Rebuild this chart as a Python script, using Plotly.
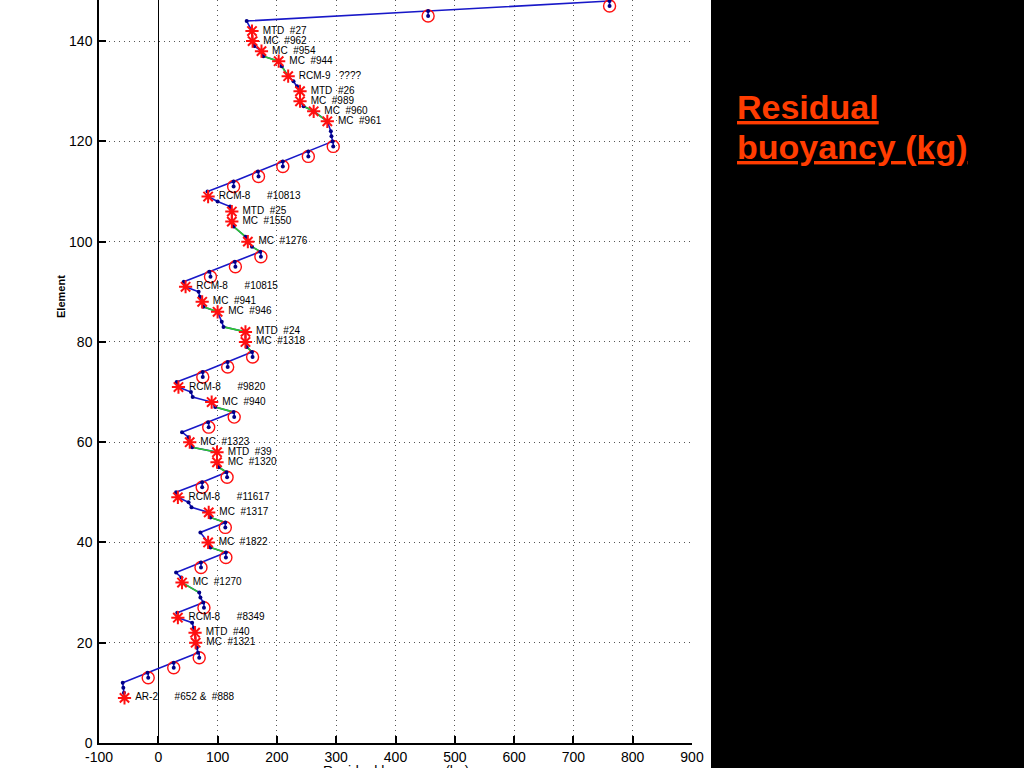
import plotly.graph_objects as go

# ---- data ----
elements = [9, 10, 11, 12, 14, 16, 18, 19, 20, 22, 23, 24, 25, 26, 28, 29, 30, 32, 33, 34,
            36, 38, 39, 40, 42, 44, 45, 46, 47, 48, 49, 50, 52, 54, 55, 56, 58, 59, 60, 61,
            62, 64, 66, 67, 68, 69, 70, 71, 72, 74, 76, 78, 79, 80, 82, 83, 84, 86, 87, 88,
            89, 90, 91, 92, 94, 96, 98, 99, 100, 101, 103, 104, 106, 107, 108, 109, 110, 112,
            114, 116, 118, 120, 121, 122, 124, 126, 127, 128, 130, 131, 132, 133, 135, 136,
            137, 138, 139, 140, 142, 144, 146, 148]
buoyancy = [-57, -58, -59, -60, -18, 26, 67, 65, 63, 62, 60, 57, 33, 32, 76, 71, 69, 40, 39, 30,
            72, 114, 88, 84, 71, 113, 88, 85, 56, 51, 33, 30, 74, 115, 102, 99, 99, 57, 53, 51,
            40, 84, 127, 96, 90, 58, 55, 34, 31, 75, 117, 158, 149, 147, 147, 110, 107, 100, 76, 74,
            70, 68, 46, 43, 86, 129, 172, 158, 151, 147, 127, 124, 124, 121, 100, 84, 83, 127,
            168, 210, 253, 294, 292, 291, 285, 262, 245, 239, 239, 234, 228, 219, 208, 203,
            177, 174, 162, 159, 158, 149, 455, 761]

float_elements = [13, 15, 17, 27, 35, 37, 43, 51, 53, 63, 65, 73, 75, 77, 93, 95, 97,
                  111, 113, 115, 117, 119, 145, 147]
float_buoyancy = [-17, 26, 69, 77, 72, 114, 113, 74, 116, 85, 128, 75, 117, 159, 88, 130, 173,
                  127, 169, 210, 253, 295, 455, 761]

instrument_elements = [9, 20, 22, 25, 32, 40, 46, 49, 56, 58, 60, 68, 71, 80, 82, 86, 88, 91,
                       100, 104, 106, 109, 124, 126, 128, 130, 133, 136, 138, 140, 142]
instrument_labels = ["AR-2      #652 &  #888", "MC  #1321", "MTD  #40", "RCM-8      #8349",
                     "MC  #1270", "MC  #1822", "MC  #1317", "RCM-8      #11617", "MC  #1320",
                     "MTD  #39", "MC  #1323", "MC  #940", "RCM-8      #9820", "MC  #1318",
                     "MTD  #24", "MC  #946", "MC  #941", "RCM-8      #10815", "MC  #1276",
                     "MC  #1550", "MTD  #25", "RCM-8      #10813", "MC  #961", "MC  #960",
                     "MC  #989", "MTD  #26", "RCM-9   ????", "MC  #944", "MC  #954",
                     "MC  #962", "MTD  #27"]

green_segments = [(30, 32), (38, 39), (44, 45), (54, 55), (58, 59), (66, 67), (78, 79), (82, 83),
                  (86, 87), (98, 99), (101, 103), (124, 126), (126, 127), (133, 135), (136, 137)]

x_ticks = list(range(-100, 1000, 100))
y_ticks = list(range(0, 160, 20))

x_title = "Residual buoyancy (kg)"
y_title = "Element"
side_title = ["Residual", "buoyancy (kg)"]

# ---- figure ----
BLUE = "#1818c8"
GREEN = "#2ec82e"
DOT = "#000088"
RED = "#ff1010"
FONT = "Liberation Sans, Arial, Helvetica, sans-serif"

lookup = dict(zip(elements, buoyancy))
inst_x = [lookup[e] for e in instrument_elements]
stub = [min(v for v in elements if v > e) - e for e in float_elements]
NB = "\u00a0"
labels = [NB + s.replace(" ", NB) for s in instrument_labels]

fig = go.Figure()
fig.add_trace(go.Scatter(x=buoyancy, y=elements, mode="lines",
                         line=dict(color=BLUE, width=1.6), cliponaxis=False, hoverinfo="skip"))
for a, b in green_segments:
    ia, ib = elements.index(a), elements.index(b)
    fig.add_trace(go.Scatter(x=buoyancy[ia:ib + 1], y=elements[ia:ib + 1], mode="lines",
                             line=dict(color=GREEN, width=1.6), hoverinfo="skip"))
fig.add_trace(go.Scatter(x=float_buoyancy, y=float_elements, mode="markers",
                         marker=dict(symbol="circle-open", size=12, color=RED,
                                     line=dict(width=1.4, color=RED)),
                         error_y=dict(type="data", symmetric=False, array=stub,
                                      arrayminus=[0] * len(stub), color=BLUE,
                                      thickness=1.6, width=0),
                         cliponaxis=False, hoverinfo="skip"))
fig.add_trace(go.Scatter(x=buoyancy + float_buoyancy, y=elements + float_elements, mode="markers",
                         marker=dict(size=4, color=DOT), cliponaxis=False, hoverinfo="skip"))
fig.add_trace(go.Scatter(x=inst_x, y=instrument_elements, mode="markers+text",
                         marker=dict(symbol="asterisk-open", size=11, color=RED,
                                     line=dict(width=2, color=RED)),
                         text=labels, textposition="middle right",
                         textfont=dict(family=FONT, size=10, color="black"),
                         cliponaxis=False, hoverinfo="skip"))

W, H = 1024, 768
L, R, T, B = 99, 332, 0, 25
pw, ph = W - L - R, H - T - B


def px_x(p):
    return (p - L) / pw


def px_y(p):
    return (H - B - p) / ph


axis_common = dict(showline=True, linecolor="black", linewidth=1.5, ticks="inside", ticklen=7,
                   tickwidth=1.5, tickcolor="black", showgrid=True, gridcolor="#555555",
                   griddash="1px,4px", gridwidth=1,
                   tickfont=dict(family=FONT, size=14, color="black"), fixedrange=True)

fig.update_layout(
    width=W, height=H, margin=dict(l=L, r=R, t=T, b=B, pad=0),
    paper_bgcolor="white", plot_bgcolor="white", showlegend=False,
    xaxis=dict(range=[-100, 900], tickvals=x_ticks, ticktext=[str(v) for v in x_ticks],
               zeroline=True, zerolinecolor="black", zerolinewidth=1.2, **axis_common),
    yaxis=dict(range=[0, 148.2], tickvals=y_ticks, ticktext=[str(v) for v in y_ticks],
               zeroline=False, ticklabelstandoff=2, **axis_common),
    shapes=[dict(type="rect", xref="paper", yref="paper", x0=px_x(711), x1=px_x(1030),
                 y0=px_y(775), y1=px_y(-5), fillcolor="black", line=dict(width=0),
                 layer="below")],
    annotations=[
        dict(text="<b>" + y_title + "</b>", xref="paper", yref="paper", x=px_x(61), y=px_y(297),
             textangle=-90, showarrow=False, font=dict(family=FONT, size=11, color="black"),
             xanchor="center", yanchor="middle"),
        dict(text=x_title, xref="paper", yref="paper", x=0.5, y=px_y(771), showarrow=False,
             font=dict(family=FONT, size=14, color="black"), xanchor="center", yanchor="middle"),
        dict(text="<b><u>" + side_title[0] + "</u></b>", xref="paper", yref="paper",
             x=px_x(735), y=px_y(107), showarrow=False, xanchor="left", yanchor="middle",
             font=dict(family=FONT, size=34, color="#ff3c00")),
        dict(text="<b><u>" + side_title[1] + "</u></b>", xref="paper", yref="paper",
             x=px_x(735), y=px_y(147), showarrow=False, xanchor="left", yanchor="middle",
             font=dict(family=FONT, size=34, color="#ff3c00")),
    ],
)

fig.write_html("out.html", config={"displayModeBar": False},
               post_script="document.body.style.margin='0';"
               "document.body.style.overflow='hidden';")
